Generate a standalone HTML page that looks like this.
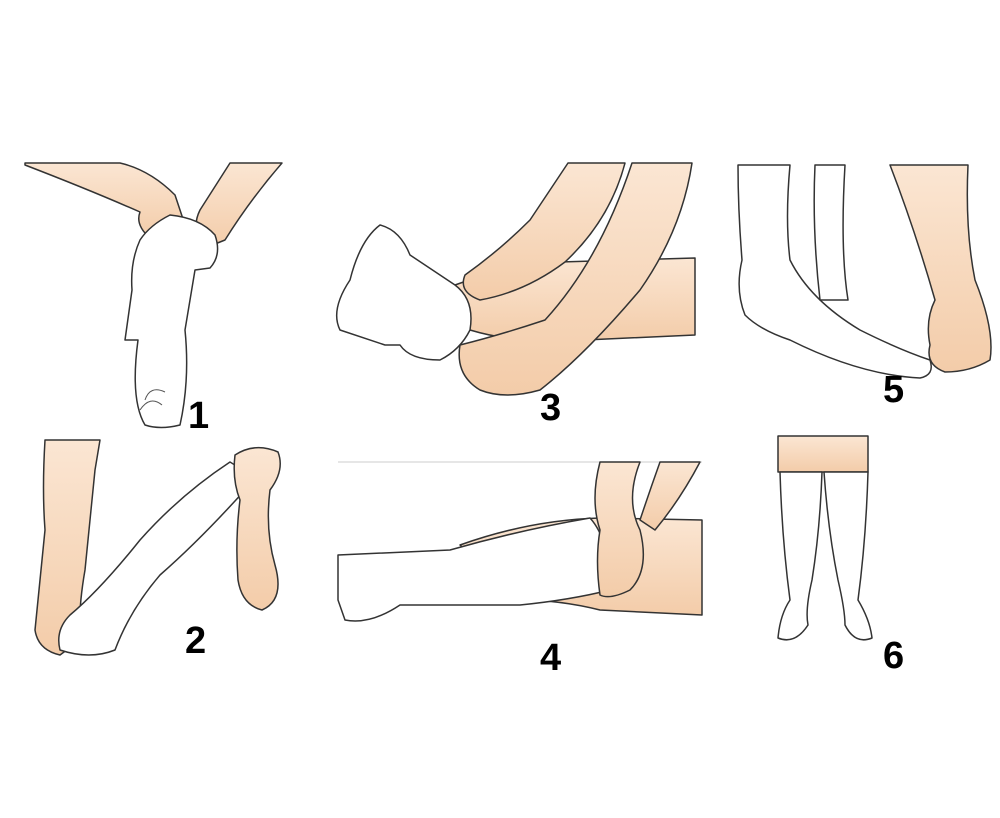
<!DOCTYPE html>
<html><head><meta charset="utf-8"><style>
html,body{margin:0;padding:0;background:#fff;width:1000px;height:818px;overflow:hidden}
svg{display:block}
text{font-family:"Liberation Sans",sans-serif;font-weight:bold;font-size:38px;fill:#000}
.s{fill:url(#g);stroke:#333;stroke-width:1.5;stroke-linejoin:round}
.w{fill:#fff;stroke:#333;stroke-width:1.5;stroke-linejoin:round}
.l{fill:none;stroke:#555;stroke-width:1}
</style></head><body>
<svg width="1000" height="818" viewBox="0 0 1000 818">
<defs>
<linearGradient id="g" x1="0" y1="0" x2="0" y2="1"><stop offset="0" stop-color="#fbe6d3"/><stop offset="1" stop-color="#f3cca9"/></linearGradient>
</defs>
<!-- Panel 1 -->
<path class="s" d="M25,163 L120,163 Q150,170 175,195 L185,225 Q170,240 150,238 Q135,225 140,212 Q90,190 25,165 Z"/>
<path class="s" d="M230,163 L282,163 Q250,200 225,240 L205,248 Q190,230 200,210 Z"/>
<path class="w" d="M170,215 Q200,218 215,235 Q222,255 210,268 L195,270 Q190,300 185,330 Q190,380 180,425 Q160,430 145,425 Q130,400 138,340 L125,340 L132,290 Q130,262 140,240 Q150,225 170,215 Z"/>
<path class="l" d="M145,400 Q150,385 165,392 M140,410 Q150,395 162,405"/>
<text x="188" y="428">1</text>
<!-- Panel 2 -->
<path class="s" d="M45,440 L100,440 L95,470 Q90,520 85,570 Q78,610 80,640 L60,655 Q38,650 35,630 Q40,580 45,530 Q42,490 45,440 Z"/>
<path class="w" d="M230,462 Q245,470 245,490 Q200,540 160,575 Q130,610 115,650 Q90,660 60,650 Q55,630 70,615 Q100,590 140,540 Q180,495 230,462 Z"/>
<path class="s" d="M235,455 Q255,442 278,452 Q285,470 270,490 Q265,530 275,565 Q285,600 262,610 Q242,605 238,580 Q235,540 240,500 Q232,480 235,455 Z"/>
<text x="185" y="653">2</text>
<!-- Panel 3 -->
<path class="s" d="M455,285 Q500,268 560,262 L695,258 L695,335 L585,340 Q520,345 470,330 Z"/>
<path class="s" d="M568,163 L625,163 Q610,220 565,262 Q525,292 480,300 Q458,292 465,275 Q500,250 530,220 Z"/>
<path class="s" d="M632,163 L692,163 Q682,230 640,290 Q585,355 540,390 Q505,400 480,390 Q455,375 460,345 Q500,335 545,320 Q600,260 632,163 Z"/>
<path class="w" d="M380,225 Q400,230 410,255 L455,285 Q475,300 470,330 Q460,350 440,360 Q410,360 400,345 L385,345 Q370,340 340,330 Q330,310 350,280 Q360,240 380,225 Z"/>
<text x="540" y="420">3</text>
<!-- Panel 4 -->
<line x1="338" y1="462" x2="702" y2="462" stroke="#ccc" stroke-width="1"/>
<path class="s" d="M460,545 Q530,520 600,518 L702,520 L702,615 L600,610 Q560,600 520,600 Z"/>
<path class="w" d="M338,555 L450,550 Q520,530 590,518 Q610,540 610,590 Q570,600 520,605 L400,605 Q370,625 345,620 L338,600 Z"/>
<path class="s" d="M600,462 L640,462 Q625,500 640,530 Q650,570 630,590 Q610,600 600,595 Q595,560 600,530 Q590,500 600,462 Z"/>
<path class="s" d="M660,462 L700,462 Q680,500 655,530 L640,520 Q650,490 660,462 Z"/>
<text x="540" y="670">4</text>
<!-- Panel 5 -->
<path class="w" d="M738,165 L790,165 Q785,220 790,260 Q810,300 860,330 Q900,350 930,360 Q935,375 920,378 Q860,375 790,340 Q760,330 745,315 Q735,290 742,260 Q738,210 738,165 Z"/>
<path class="w" d="M815,165 L845,165 Q840,250 848,300 L820,300 Q812,230 815,165 Z"/>
<path class="s" d="M890,165 L968,165 Q965,230 975,280 Q995,330 990,360 Q970,372 945,372 Q925,365 930,345 Q925,320 935,300 Q915,230 890,165 Z"/>
<text x="883" y="402">5</text>
<!-- Panel 6 -->
<path class="s" d="M778,436 L868,436 L868,472 L778,472 Z"/>
<path class="w" d="M780,472 L822,472 Q820,530 812,580 Q805,610 808,625 Q795,645 778,638 Q780,615 790,600 Q782,540 780,472 Z"/>
<path class="w" d="M824,472 L868,472 Q866,540 858,600 Q870,620 872,638 Q855,645 845,625 Q845,610 838,580 Q828,530 824,472 Z"/>
<text x="883" y="668">6</text>
</svg>
</body></html>
